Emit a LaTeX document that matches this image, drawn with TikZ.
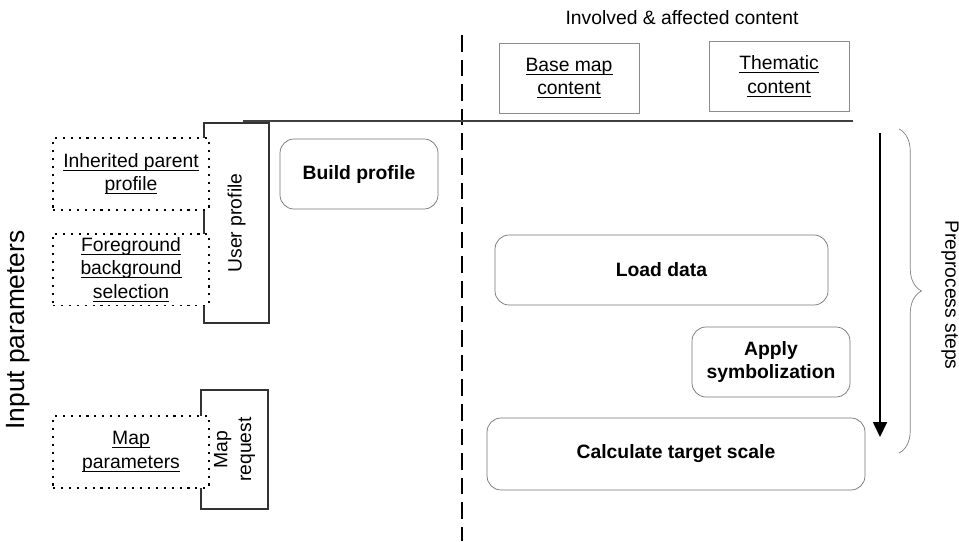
\documentclass[tikz,border=0pt]{standalone}
\usepackage{fontspec}
\setmainfont{Liberation Sans}
\usetikzlibrary{positioning,arrows.meta,decorations.pathreplacing}
\newcommand{\lnk}[1]{{\setbox0\hbox{#1}\rlap{\rule[-1.9pt]{\wd0}{0.5pt}}\box0}}

\begin{document}
\begin{tikzpicture}[x=0.02cm,y=-0.02cm,
  font=\fontsize{11}{13.5}\selectfont,
  every node/.style={align=center,inner sep=2pt},
  stepbox/.style={draw=black!55,rounded corners=0.28cm,minimum height=1.4cm,font=\fontsize{11}{13.5}\selectfont\bfseries},
  inbox/.style={draw,fill=white,line width=1.1pt,dash pattern=on 1.2pt off 3.3pt,minimum width=3.12cm,minimum height=1.43cm},
  groupbox/.style={draw=black!80,line width=0.8pt},
  contentbox/.style={draw=black!45,minimum width=2.8cm,minimum height=1.4cm},
  divider/.style={line width=1.5pt,dash pattern=on 9.5pt off 4.5pt}]
  \useasboundingbox (0,0) rectangle (959,541);

  % content on top
  \node (involved) at (682,18) {Involved \& affected content};
  \node[contentbox] (basemap) at (569,78) {\lnk{Base map}\\\lnk{content}};
  \node[contentbox] (thematic) at (779,76.5) {\lnk{Thematic}\\\lnk{content}};

  % input side
  \node[rotate=90,font=\fontsize{15}{18}\selectfont] (input) at (18,330) {Input parameters};
  \node[groupbox,rotate=90,minimum width=4cm,minimum height=1.3cm] (userprof) at (236.5,223) {User profile};
  \node[groupbox,rotate=90,minimum width=2.38cm,minimum height=1.34cm] (mapreq) at (234.5,449.5) {Map\\request};
  \node[inbox] (inherited) at (131,174) {\lnk{Inherited parent}\\\lnk{profile}};
  \node[inbox,below=0.44cm of inherited] (foreground) {\lnk{Foreground}\\\lnk{background}\\\lnk{selection}};
  \node[inbox] (mapparams) at (131,452) {\lnk{Map}\\\lnk{parameters}};

  % steps
  \node[stepbox,minimum width=3.16cm] (build) at (359,174) {Build profile};
  \node[stepbox,minimum width=6.66cm] (load) at (661.5,270) {Load data};
  \node[stepbox,minimum width=3.16cm] (apply) at (771,362) {Apply\\symbolization};
  \node[stepbox,minimum width=7.56cm,minimum height=1.44cm] (calc) at (676,454) {Calculate target scale};

  % lines
  \coordinate (divtop) at (462,35);
  \coordinate (divbot) at (462,541);
  \draw[divider] (divtop) -- (divbot);
  \coordinate (headl) at (243,121);
  \coordinate (headr) at (853,121);
  \draw[black!75,line width=1.1pt] (headl) -- (headr);
  \coordinate (flowtop) at (880,133);
  \coordinate (flowbot) at (880,437);
  \draw[line width=1pt,-{Triangle[width=0.28cm,length=0.3cm]}] (flowtop) -- (flowbot);
  \coordinate (bracetop) at (899,129);
  \coordinate (bracebot) at (899,453);
  \draw[black!50,decorate,decoration={brace,amplitude=0.45cm}] (bracetop) -- (bracebot);
  \node[rotate=-90] (preprocess) at (950,295) {Preprocess steps};
\end{tikzpicture}
\end{document}
